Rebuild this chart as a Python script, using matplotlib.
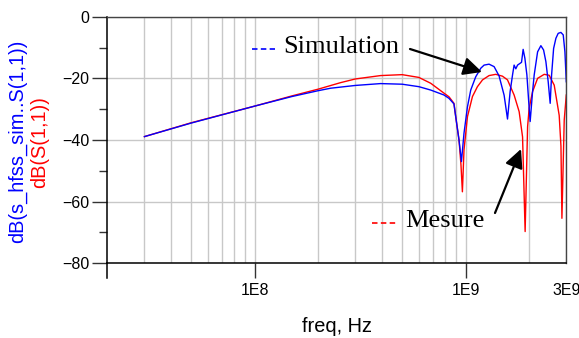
import matplotlib
matplotlib.use('Agg')
import matplotlib.pyplot as plt
import numpy as np

# simulation (blue) : dB(s_hfss_sim..S(1,1))
f_sim = [3e7, 5e7, 1e8, 1.5e8, 2e8, 2.29e8, 3e8, 3.95e8, 5e8, 6e8, 6.83e8, 7.89e8,
         8.34e8, 8.8e8, 8.97e8, 9.3e8, 9.55e8, 9.82e8, 1.02e9, 1.057e9, 1.116e9,
         1.18e9, 1.223e9, 1.291e9, 1.364e9, 1.44e9, 1.522e9, 1.579e9, 1.625e9,
         1.668e9, 1.697e9, 1.729e9, 1.762e9, 1.84e9, 1.873e9, 1.909e9, 1.951e9,
         2.0e9, 2.022e9, 2.076e9, 2.113e9, 2.193e9, 2.273e9, 2.341e9, 2.401e9,
         2.462e9, 2.516e9, 2.555e9, 2.612e9, 2.678e9, 2.746e9, 2.828e9, 2.901e9,
         2.955e9, 3.0e9]
s_sim = [-38.9, -34.5, -29.0, -25.9, -24.0, -23.2, -22.3, -21.7, -21.9, -22.7, -23.8, -25.4,
         -26.5, -28.3, -32.4, -40.0, -47.0, -37.8, -29.2, -23.8, -19.5,
         -16.7, -15.7, -15.4, -16.2, -19.2, -25.5, -33.2, -24.3,
         -18.9, -15.7, -16.9, -15.7, -14.8, -10.6, -13.5, -18.9,
         -29.7, -34.0, -24.3, -18.9, -11.4, -9.4, -10.8, -14.6,
         -21.1, -28.1, -18.9, -10.3, -7.0, -5.4, -5.1, -5.9,
         -11.4, -21.1]

# mesure (red) : dB(S(1,1))
f_mes = [3e7, 5e7, 1e8, 1.5e8, 2e8, 2.55e8, 3e8, 3.95e8, 5e8, 6e8, 6.83e8, 7.89e8,
         8.34e8, 8.8e8, 8.97e8, 9.3e8, 9.5e8, 9.65e8, 9.82e8, 1.02e9, 1.077e9,
         1.137e9, 1.202e9, 1.291e9, 1.389e9, 1.495e9, 1.579e9, 1.697e9, 1.793e9,
         1.861e9, 1.914e9, 1.966e9, 2.0e9, 2.076e9, 2.193e9, 2.357e9, 2.489e9,
         2.629e9, 2.776e9, 2.83e9, 2.86e9, 2.933e9, 3.0e9]
s_mes = [-38.9, -34.4, -29.0, -25.7, -23.5, -21.4, -20.2, -19.1, -18.8, -19.7, -21.6, -24.8,
         -26.0, -28.1, -32.4, -40.0, -48.0, -56.8, -43.2, -32.4, -25.9,
         -22.7, -20.5, -19.1, -18.7, -19.3, -20.5, -25.4, -30.8,
         -39.0, -69.7, -35.7, -29.7, -24.3, -20.0, -18.7, -19.0,
         -22.2, -32.0, -42.0, -65.4, -33.5, -25.4]

y_major = [-80, -60, -40, -20, 0]
y_minor = [-70, -50, -30, -10]
x_major = [1e8, 1e9, 3e9]
x_major_labels = ['1E8', '1E9', '3E9']
x_minor = [3e7, 4e7, 5e7, 6e7, 7e7, 8e7, 9e7, 2e8, 3e8, 4e8, 5e8, 6e8, 7e8, 8e8, 9e8, 2e9]

W, H = 579, 338
def fx(px):
    return px / W
def fy(py):
    return 1 - py / H

plt.rcParams['font.family'] = ['Liberation Sans', 'DejaVu Sans']
fig = plt.figure(figsize=(W / 100, H / 100), dpi=100)
ax = fig.add_axes([fx(107.3), fy(263.3), (566.3 - 107.3) / W, (263.3 - 16.7) / H])

ax.plot(f_mes, s_mes, color='#ff0000', lw=1.0)
ax.plot(f_sim, s_sim, color='#0000ff', lw=1.0)

ax.set_xscale('log')
ax.set_xlim(2e7, 3e9)
ax.set_ylim(-80, 0)
ax.set_xticks(x_major)
ax.set_xticklabels(x_major_labels)
ax.set_xticks(x_minor, minor=True)
ax.set_xticklabels([], minor=True)
ax.set_yticks(y_major)
ax.set_yticks(y_minor, minor=True)
ax.tick_params(axis='x', which='major', length=10.8, width=1, colors='#333333', pad=3.6,
               labelsize=11.5, labelcolor='black')
ax.tick_params(axis='x', which='minor', length=0)
ax.tick_params(axis='y', which='major', length=10.6, width=1, colors='#333333', pad=2.5,
               labelsize=11.5, labelcolor='black')
ax.tick_params(axis='y', which='minor', length=6, width=1, colors='#333333')
ax.xaxis.get_major_ticks()[2].tick1line.set_visible(False)

ax.grid(True, axis='x', which='both', color='#c8c8c8', lw=1)
ax.grid(True, axis='y', which='major', color='#c8c8c8', lw=1)
ax.set_axisbelow(True)

for s in ['left', 'bottom']:
    ax.spines[s].set_color('black')
    ax.spines[s].set_linewidth(1.1)
for s in ['top', 'right']:
    ax.spines[s].set_color('#444444')
    ax.spines[s].set_linewidth(1.0)
# left spine runs on under the x axis
ax.plot([0, 0], [0, -0.061], transform=ax.transAxes, color='black', lw=1.1, clip_on=False)

# axis labels
fig.text(fx(18), fy(141), 'dB(s_hfss_sim..S(1,1))', color='#0000ff', fontsize=14.4,
         rotation=90, ha='center', va='center')
fig.text(fx(40), fy(142), 'dB(S(1,1))', color='#ff0000', fontsize=14.4,
         rotation=90, ha='center', va='center')
fig.text(fx(336.7), fy(326.7), 'freq, Hz', fontsize=14.4, ha='center', va='center')

# legend-like annotations
fig.lines.append(plt.Line2D([fx(251.7), fx(275)], [fy(49.3), fy(49.3)], transform=fig.transFigure,
                            color='#0000ff', lw=1.2, dashes=(3.3, 2.0)))
fig.text(fx(283), fy(47), 'Simulation', family='Liberation Serif', fontsize=19,
         ha='left', va='center')
fig.lines.append(plt.Line2D([fx(371.7), fx(396.7)], [fy(223.3), fy(223.3)], transform=fig.transFigure,
                            color='#ff0000', lw=1.2, dashes=(3.3, 2.0)))
fig.text(fx(405), fy(221), 'Mesure', family='Liberation Serif', fontsize=19,
         ha='left', va='center')

arrow = dict(arrowstyle='-|>,head_length=0.45,head_width=0.22', mutation_scale=25,
             lw=1.6, color='black', shrinkA=0, shrinkB=0)
ax.annotate('', xy=(fx(482), fy(72)), xytext=(fx(410), fy(49)),
            xycoords='figure fraction', textcoords='figure fraction', arrowprops=arrow)
ax.annotate('', xy=(fx(521), fy(149)), xytext=(fx(495), fy(213)),
            xycoords='figure fraction', textcoords='figure fraction', arrowprops=arrow)

fig.savefig('out.png', dpi=100)
